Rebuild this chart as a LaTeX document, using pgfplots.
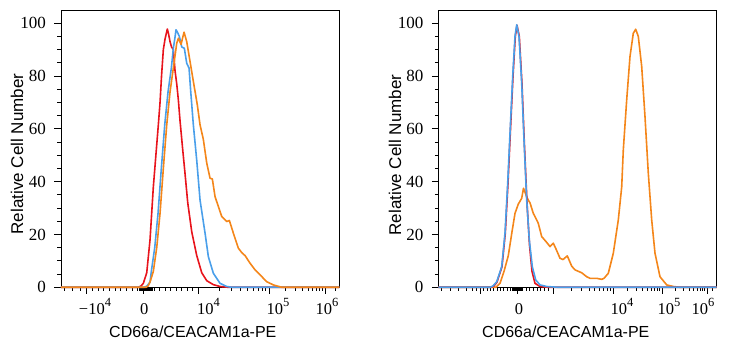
\documentclass[border=0pt]{standalone}
\usepackage{fontspec}
\setmainfont{Liberation Sans}
\newfontfamily\tickfont{Liberation Serif}
\usepackage{pgfplots}
\pgfplotsset{compat=1.18}
\definecolor{cred}{HTML}{E8141C}
\definecolor{cblue}{HTML}{4A9FEA}
\definecolor{corange}{HTML}{F4861A}
\newcommand{\sups}[1]{\raisebox{0.5em}{\fontsize{12.5}{12.5}\selectfont #1}}
\pgfplotsset{myaxis/.style={
  scale only axis, width=278.4pt, height=277.3pt,
  anchor=south west,
  ymin=0, ymax=105, ytick={0,20,...,100}, minor y tick num=3,
  tick align=outside, xtick pos=left, ytick pos=left,
  xticklabels={},
  yticklabel style={font=\tickfont\fontsize{17}{17}\selectfont, xshift=-5pt},
  /pgf/number format/assume math mode=true,
  major tick length=6.5pt, minor tick length=3.5pt,
  axis line style={line width=0.9pt},
  every tick/.style={black, line width=1pt},
  clip=false,
  every axis plot/.append style={line width=1.6pt, line join=round},
}}
\begin{document}
\begin{tikzpicture}[x=1pt,y=1pt]
\useasboundingbox (0,0) rectangle (729,350);
% ---------------- left panel
\begin{axis}[myaxis, at={(61pt,62.7pt)}, xmin=61, xmax=339.3,
  xtick={86.7,143.5,198,269,325},
  minor xtick={64,72,80,92.4,98.1,103.7,109.4,115.1,120.8,126.5,132.1,137.8,139,140,141,142,143,144,145,146,147,148,149,150,151,152,154.4,159.9,165.3,170.8,176.2,181.7,187.1,192.6,219.4,231.9,240.7,247.6,253.2,258,262.1,265.7,285.9,295.7,302.7,308.1,312.6,316.3,319.6,322.4,335}]
\addplot[cred] coordinates {(61,0)(138,0)(141,0.5)(143.3,1.5)(146.7,5.5)(150,18)(153.3,38)(156.7,54)(158.3,61.5)(160,70)(161.5,80)(163.3,90)(165,94)(167.3,97.8)(168.5,96)(170,93)(171.5,91)(173.3,90)(175,82)(176.7,77)(178.3,71)(180,63)(182.7,52)(185,43)(187.7,32)(191.7,21)(196.7,12)(201.7,5.5)(206.7,2.5)(213.3,1)(220,0.3)(228,0)(339.3,0)};
\addplot[cblue] coordinates {(61,0)(144,0)(147,0.5)(150,2)(151.3,6)(154.7,15)(158,28)(161.3,45)(164.7,61.5)(168,74)(171.3,83)(173.3,90.5)(174.7,94)(176,97.5)(177.5,96.5)(179.3,95)(181.7,91)(184.3,90.5)(186.7,84.8)(189,83)(190.7,74)(193.3,61.5)(196.7,48)(200,33)(205,20.5)(208.3,11.6)(213.3,5.3)(220,1.5)(226.7,0.3)(232,0)(339.3,0)};
\addplot[corange] coordinates {(61,0)(146,0)(148,0.5)(150,2)(153.3,6)(156.7,15)(160,28)(163.3,45)(166.7,61.5)(170,74)(173.3,83)(176.7,92.4)(178.3,94.3)(181,92)(184,96.6)(186.7,93)(190,85.5)(193.3,78)(197.3,69)(200,61.5)(203.3,56)(206.7,47)(210,41.3)(212.3,41)(215,34.3)(218.3,30.6)(221.7,26.8)(226.7,24.9)(229.3,25.3)(233.3,20.5)(238.3,14.8)(242,13)(245,12)(250,9.1)(255,6.6)(260,4.7)(266.7,2.1)(273.3,0.9)(281.7,0)(339.3,0)};
\end{axis}
% ---------------- right panel
\begin{axis}[myaxis, at={(438.3pt,62.7pt)}, xmin=438.3, xmax=716.7,
  xtick={480,517,553,613,662,707},
  minor xtick={441.7,450,458.3,466.7,472,476,483.5,487,490,493.5,497,500,503.5,507,510,512,513,514,515,516,518,519,520,521,522,526,529.5,533,537,540,544,548,571,581.1,589.1,594.9,599.7,603.7,607.2,610.3,627.8,636.4,642.5,647.3,651.1,654.4,657.3,659.8,675.5,683.5,689.1,693.5,697,700,702.6,704.9,712.5}]
\addplot[corange] coordinates {(438.3,0)(496,0)(500,1.5)(504,6)(508.3,12)(512,21)(515,28)(518.3,31.5)(521.7,33.7)(523.5,37.5)(526.7,34.3)(528.3,33)(530,32)(533.3,28)(536.7,25.5)(538.3,24.2)(541.7,19.2)(546.7,17)(550,15.4)(553.3,16.7)(556,14.5)(560,11)(563,10.5)(567.3,11.9)(571.7,8)(575,6.6)(581.7,5.5)(586.7,4)(590,3.4)(596.7,3.4)(601.7,3)(604,3.4)(608.3,5.3)(613.3,12.9)(618.3,25.5)(621.7,38)(623.3,52)(626.7,71)(630,87.4)(633.3,96.2)(635.7,97.7)(638.3,95)(641.7,83.6)(645,64.6)(648.3,43.2)(651.7,25.5)(655,12.9)(660,4)(666.7,0.9)(673.3,0.3)(680,0)(716.7,0)};
\addplot[cred] coordinates {(438.3,0)(491,0)(494,0.5)(497,2)(502,7.8)(505.3,20.5)(508,39.4)(510.3,58.3)(513,79.8)(515.3,95)(517,99.2)(519.3,95)(522,77)(524.3,55)(527,32)(529.5,16)(532,6)(535,1.5)(540,0.3)(548,0)(716.7,0)};
\addplot[cblue] coordinates {(438.3,0)(490,0)(493,0.5)(496.7,2.1)(501.7,7.8)(505,20.5)(507.7,39.4)(510,58.3)(512.7,79.8)(515,95)(516.7,99.4)(519,95)(521.7,77.3)(524,55.8)(526.7,33)(529.3,18)(532.3,7.8)(535.7,2.8)(540,0.9)(546.7,0.3)(558,0)(716.7,0)};
\end{axis}
% ---------------- tick labels
\begin{scope}[every node/.style={anchor=base, inner sep=0pt, font=\tickfont\fontsize{16.5}{16.5}\selectfont}]
\node at (95,35) {−10\sups{4}};
\node at (144.3,35) {0};
\node at (208.5,35) {10\sups{4}};
\node at (278,35) {10\sups{5}};
\node at (327,35) {10\sups{6}};
\node at (519,35) {0};
\node at (622,35) {10\sups{4}};
\node at (669,35) {10\sups{5}};
\node at (703,35) {10\sups{6}};
\end{scope}
% ---------------- axis labels
\begin{scope}[every node/.style={inner sep=0pt, font=\fontsize{16}{16}\selectfont}]
\node[anchor=base] at (192.8,12) {CD66a/CEACAM1a-PE};
\node[anchor=base] at (565.8,12) {CD66a/CEACAM1a-PE};
\node[rotate=90, font=\fontsize{17}{17}\selectfont] at (17,196) {Relative Cell Number};
\node[rotate=90, font=\fontsize{17}{17}\selectfont] at (395,195) {Relative Cell Number};
\end{scope}
\end{tikzpicture}
\end{document}
